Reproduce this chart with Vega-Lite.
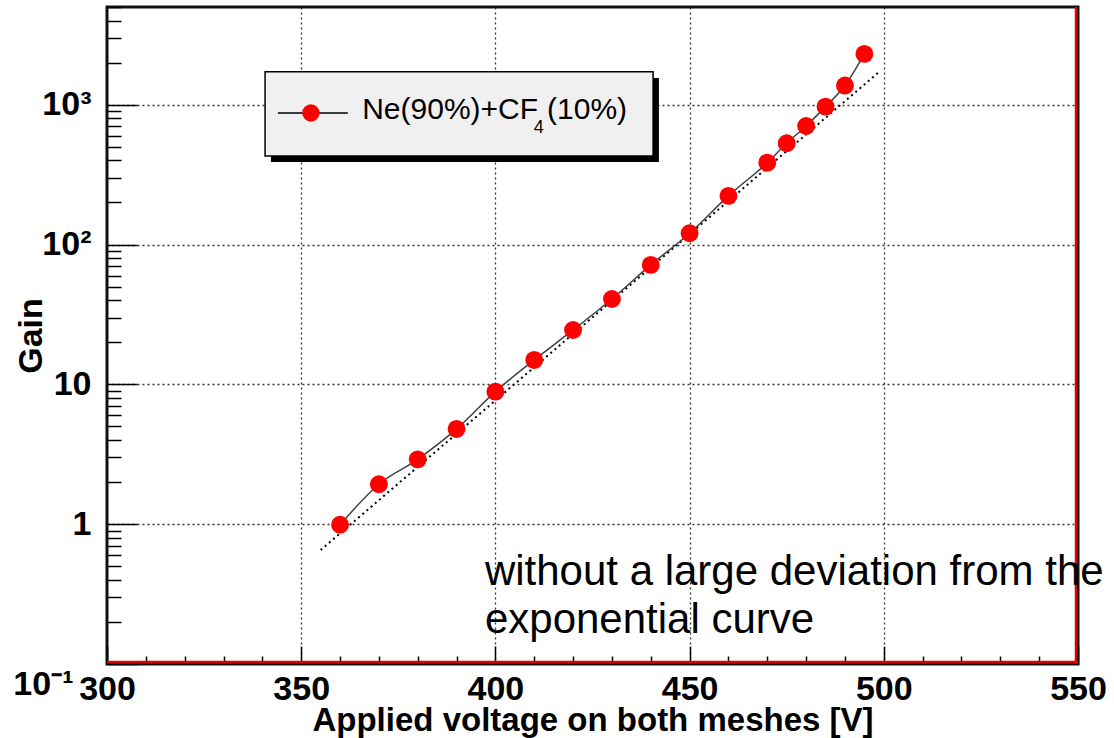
{
  "$schema": "https://vega.github.io/schema/vega-lite/v6.json",
  "width": 971,
  "height": 657,
  "autosize": {"type": "none"},
  "padding": {"left": 107, "top": 7, "right": 36, "bottom": 74},
  "background": "white",
  "config": {
    "view": {"stroke": "#111", "strokeWidth": 3},
    "font": "Liberation Sans"
  },
  "resolve": {"axis": {"x": "independent", "y": "independent"}},
  "datasets": {
    "gain": [
      {"V": 360, "G": 0.99},
      {"V": 370, "G": 1.93},
      {"V": 380, "G": 2.91},
      {"V": 390, "G": 4.8},
      {"V": 400, "G": 8.87},
      {"V": 410, "G": 14.95},
      {"V": 420, "G": 24.5},
      {"V": 430, "G": 40.8},
      {"V": 440, "G": 71.5},
      {"V": 450, "G": 120.5},
      {"V": 460, "G": 222.8},
      {"V": 470, "G": 385},
      {"V": 475, "G": 530},
      {"V": 480, "G": 705},
      {"V": 485, "G": 969},
      {"V": 490, "G": 1371},
      {"V": 495, "G": 2309}
    ],
    "fit": [
      {"V": 355.0, "G": 0.653},
      {"V": 498.6, "G": 1698}
    ],
    "one": [{"k": 1}]
  },
  "layer": [
    {
      "data": {"name": "fit"},
      "mark": {"type": "line", "color": "#000", "strokeWidth": 2, "strokeDash": [2, 3.5]},
      "encoding": {
        "x": {
          "field": "V", "type": "quantitative",
          "scale": {"type": "linear", "domain": [300, 550], "nice": false, "zero": false},
          "axis": {
            "orient": "bottom",
            "title": "Applied voltage on both meshes [V]",
            "values": [300,310,320,330,340,350,360,370,380,390,400,410,420,430,440,450,460,470,480,490,500,510,520,530,540,550],
            "labelExpr": "datum.value % 50 === 0 ? datum.label : ''",
            "tickSize": {"condition": {"test": "datum.value % 50 === 0", "value": -18}, "value": -8},
            "tickColor": "#000",
            "tickWidth": 1.5,
            "domain": false,
            "grid": true,
            "gridColor": "#333",
            "gridWidth": 1.3,
            "gridDash": [2, 3],
            "gridOpacity": {"condition": {"test": "datum.value % 50 === 0 && datum.value > 300 && datum.value < 550", "value": 1}, "value": 0},
            "labelFont": "Liberation Sans",
            "labelFontWeight": "bold",
            "labelFontSize": 34,
            "labelColor": "#000",
            "labelPadding": 26,
            "labelFlush": false,
            "labelOverlap": false,
            "titleFont": "Liberation Sans",
            "titleFontWeight": "bold",
            "titleFontSize": 33,
            "titleColor": "#000",
            "titlePadding": -12
          }
        },
        "y": {
          "field": "G", "type": "quantitative",
          "scale": {"type": "log", "domain": [0.1, 5000], "nice": false},
          "axis": {
            "orient": "left",
            "title": "Gain",
            "values": [0.1,0.2,0.3,0.4,0.5,0.6,0.7,0.8,0.9,1,2,3,4,5,6,7,8,9,10,20,30,40,50,60,70,80,90,100,200,300,400,500,600,700,800,900,1000,2000,3000,4000,5000],
            "labelExpr": "datum.value===1000?'10³':datum.value===100?'10²':datum.value===10?'10':datum.value===1?'1':datum.value===0.1?'10⁻¹':''",
            "tickSize": {"condition": {"test": "datum.value===0.1||datum.value===1||datum.value===10||datum.value===100||datum.value===1000", "value": -30}, "value": -14},
            "tickColor": "#000",
            "tickWidth": 1.5,
            "domain": false,
            "grid": true,
            "gridColor": "#333",
            "gridWidth": 1.3,
            "gridDash": [2, 3],
            "gridOpacity": {"condition": {"test": "datum.value===1||datum.value===10||datum.value===100||datum.value===1000", "value": 1}, "value": 0},
            "labelFont": "Liberation Sans",
            "labelFontWeight": "bold",
            "labelFontSize": 34,
            "labelColor": "#000",
            "labelPadding": {"condition": {"test": "datum.value===0.1", "value": 64}, "value": 46},
            "labelOffset": {"condition": {"test": "datum.value===0.1", "value": 20}, "value": 0},
            "labelFlush": false,
            "labelOverlap": false,
            "titleFont": "Liberation Sans",
            "titleFontWeight": "bold",
            "titleFontSize": 34,
            "titleColor": "#000",
            "titlePadding": -36
          }
        }
      }
    },
    {
      "data": {"name": "gain"},
      "mark": {"type": "line", "color": "#404040", "strokeWidth": 1.5, "interpolate": "monotone"},
      "encoding": {
        "x": {"field": "V", "type": "quantitative", "axis": null},
        "y": {"field": "G", "type": "quantitative", "axis": null}
      }
    },
    {
      "data": {"name": "gain"},
      "mark": {"type": "point", "shape": "circle", "filled": true, "color": "#ff0000", "opacity": 1, "size": 320, "strokeWidth": 0},
      "encoding": {
        "x": {"field": "V", "type": "quantitative", "axis": null},
        "y": {"field": "G", "type": "quantitative", "axis": null}
      }
    },
    {
      "data": {"name": "one"},
      "mark": {"type": "rule", "color": "#e00000", "strokeWidth": 2.5, "xOffset": -2},
      "encoding": {"x": {"datum": 550, "axis": null}, "y": {"datum": 0.1, "axis": null}, "y2": {"datum": 5000}}
    },
    {
      "data": {"name": "one"},
      "mark": {"type": "rule", "color": "#e00000", "strokeWidth": 2.5, "yOffset": -2},
      "encoding": {"x": {"datum": 300, "axis": null}, "x2": {"datum": 550}, "y": {"datum": 0.1, "axis": null}}
    },
    {
      "data": {"name": "one"},
      "mark": {"type": "rect", "color": "#000"},
      "encoding": {
        "x": {"datum": 342.2, "axis": null}, "x2": {"datum": 442.1},
        "y": {"datum": 1556, "axis": null}, "y2": {"datum": 390}
      }
    },
    {
      "data": {"name": "one"},
      "mark": {"type": "rect", "fill": "#f0f0f0", "stroke": "#000", "strokeWidth": 1.5},
      "encoding": {
        "x": {"datum": 340.7, "axis": null}, "x2": {"datum": 440.6},
        "y": {"datum": 1718, "axis": null}, "y2": {"datum": 430}
      }
    },
    {
      "data": {"name": "one"},
      "mark": {"type": "rule", "color": "#000", "strokeWidth": 1.5},
      "encoding": {
        "x": {"datum": 344.0, "axis": null}, "x2": {"datum": 362.0},
        "y": {"datum": 873, "axis": null}
      }
    },
    {
      "data": {"name": "one"},
      "mark": {"type": "point", "shape": "circle", "filled": true, "color": "#ff0000", "opacity": 1, "size": 300, "strokeWidth": 0},
      "encoding": {"x": {"datum": 352.5, "axis": null}, "y": {"datum": 873, "axis": null}}
    },
    {
      "data": {"name": "one"},
      "mark": {"type": "text", "text": "Ne(90%)+CF", "font": "Liberation Sans", "fontSize": 30, "align": "left", "baseline": "alphabetic", "color": "#000"},
      "encoding": {"x": {"datum": 365.7, "axis": null}, "y": {"datum": 787, "axis": null}}
    },
    {
      "data": {"name": "one"},
      "mark": {"type": "text", "text": "4", "font": "Liberation Sans", "fontSize": 18, "align": "left", "baseline": "alphabetic", "color": "#000"},
      "encoding": {"x": {"datum": 409.9, "axis": null}, "y": {"datum": 628, "axis": null}}
    },
    {
      "data": {"name": "one"},
      "mark": {"type": "text", "text": "(10%)", "font": "Liberation Sans", "fontSize": 30, "align": "left", "baseline": "alphabetic", "color": "#000"},
      "encoding": {"x": {"datum": 413.3, "axis": null}, "y": {"datum": 787, "axis": null}}
    },
    {
      "data": {"name": "one"},
      "mark": {"type": "text", "text": "without a large deviation from the\nexponential curve", "lineBreak": "\n", "lineHeight": 48, "font": "Liberation Sans", "fontSize": 42, "align": "left", "baseline": "alphabetic", "color": "#000"},
      "encoding": {"x": {"datum": 397.3, "axis": null}, "y": {"datum": 0.367, "axis": null}}
    }
  ]
}
